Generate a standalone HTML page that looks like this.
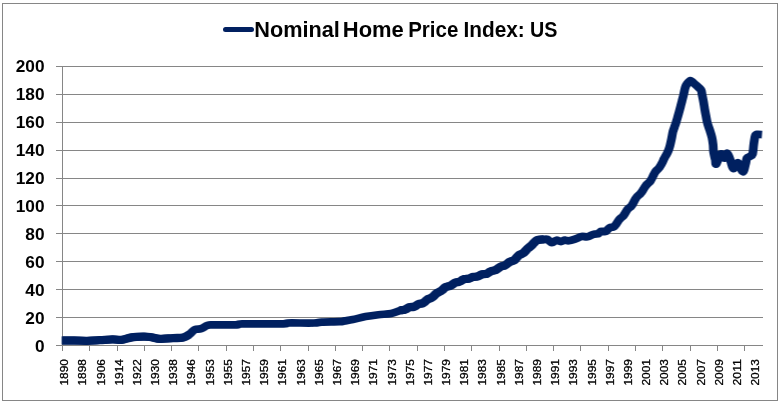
<!DOCTYPE html>
<html><head><meta charset="utf-8"><title>Nominal Home Price Index: US</title>
<style>html,body{margin:0;padding:0;background:#fff;}body{width:782px;height:404px;overflow:hidden;}svg{display:block;}text{font-family:"Liberation Sans",sans-serif;fill:#000;}</style></head><body>
<svg width="782" height="404" viewBox="0 0 782 404">
<rect x="0" y="0" width="782" height="404" fill="#fff"/>
<rect x="2.5" y="3.5" width="775" height="397" fill="none" stroke="#868686" stroke-width="1"/>
<line x1="56" y1="66.5" x2="763" y2="66.5" stroke="#868686" stroke-width="1" shape-rendering="crispEdges"/>
<line x1="56" y1="94.5" x2="763" y2="94.5" stroke="#868686" stroke-width="1" shape-rendering="crispEdges"/>
<line x1="56" y1="122.5" x2="763" y2="122.5" stroke="#868686" stroke-width="1" shape-rendering="crispEdges"/>
<line x1="56" y1="150.5" x2="763" y2="150.5" stroke="#868686" stroke-width="1" shape-rendering="crispEdges"/>
<line x1="56" y1="178.5" x2="763" y2="178.5" stroke="#868686" stroke-width="1" shape-rendering="crispEdges"/>
<line x1="56" y1="205.5" x2="763" y2="205.5" stroke="#868686" stroke-width="1" shape-rendering="crispEdges"/>
<line x1="56" y1="233.5" x2="763" y2="233.5" stroke="#868686" stroke-width="1" shape-rendering="crispEdges"/>
<line x1="56" y1="261.5" x2="763" y2="261.5" stroke="#868686" stroke-width="1" shape-rendering="crispEdges"/>
<line x1="56" y1="289.5" x2="763" y2="289.5" stroke="#868686" stroke-width="1" shape-rendering="crispEdges"/>
<line x1="56" y1="317.5" x2="763" y2="317.5" stroke="#868686" stroke-width="1" shape-rendering="crispEdges"/>
<line x1="56" y1="345.5" x2="763" y2="345.5" stroke="#868686" stroke-width="1" shape-rendering="crispEdges"/>
<line x1="62.5" y1="66" x2="62.5" y2="346" stroke="#868686" stroke-width="1" shape-rendering="crispEdges"/>
<line x1="62.5" y1="346" x2="62.5" y2="350.5" stroke="#868686" stroke-width="1" shape-rendering="crispEdges"/>
<line x1="89.5" y1="346" x2="89.5" y2="350.5" stroke="#868686" stroke-width="1" shape-rendering="crispEdges"/>
<line x1="117.5" y1="346" x2="117.5" y2="350.5" stroke="#868686" stroke-width="1" shape-rendering="crispEdges"/>
<line x1="144.5" y1="346" x2="144.5" y2="350.5" stroke="#868686" stroke-width="1" shape-rendering="crispEdges"/>
<line x1="171.5" y1="346" x2="171.5" y2="350.5" stroke="#868686" stroke-width="1" shape-rendering="crispEdges"/>
<line x1="198.5" y1="346" x2="198.5" y2="350.5" stroke="#868686" stroke-width="1" shape-rendering="crispEdges"/>
<line x1="226.5" y1="346" x2="226.5" y2="350.5" stroke="#868686" stroke-width="1" shape-rendering="crispEdges"/>
<line x1="253.5" y1="346" x2="253.5" y2="350.5" stroke="#868686" stroke-width="1" shape-rendering="crispEdges"/>
<line x1="280.5" y1="346" x2="280.5" y2="350.5" stroke="#868686" stroke-width="1" shape-rendering="crispEdges"/>
<line x1="308.5" y1="346" x2="308.5" y2="350.5" stroke="#868686" stroke-width="1" shape-rendering="crispEdges"/>
<line x1="335.5" y1="346" x2="335.5" y2="350.5" stroke="#868686" stroke-width="1" shape-rendering="crispEdges"/>
<line x1="362.5" y1="346" x2="362.5" y2="350.5" stroke="#868686" stroke-width="1" shape-rendering="crispEdges"/>
<line x1="389.5" y1="346" x2="389.5" y2="350.5" stroke="#868686" stroke-width="1" shape-rendering="crispEdges"/>
<line x1="417.5" y1="346" x2="417.5" y2="350.5" stroke="#868686" stroke-width="1" shape-rendering="crispEdges"/>
<line x1="444.5" y1="346" x2="444.5" y2="350.5" stroke="#868686" stroke-width="1" shape-rendering="crispEdges"/>
<line x1="471.5" y1="346" x2="471.5" y2="350.5" stroke="#868686" stroke-width="1" shape-rendering="crispEdges"/>
<line x1="499.5" y1="346" x2="499.5" y2="350.5" stroke="#868686" stroke-width="1" shape-rendering="crispEdges"/>
<line x1="526.5" y1="346" x2="526.5" y2="350.5" stroke="#868686" stroke-width="1" shape-rendering="crispEdges"/>
<line x1="553.5" y1="346" x2="553.5" y2="350.5" stroke="#868686" stroke-width="1" shape-rendering="crispEdges"/>
<line x1="580.5" y1="346" x2="580.5" y2="350.5" stroke="#868686" stroke-width="1" shape-rendering="crispEdges"/>
<line x1="608.5" y1="346" x2="608.5" y2="350.5" stroke="#868686" stroke-width="1" shape-rendering="crispEdges"/>
<line x1="635.5" y1="346" x2="635.5" y2="350.5" stroke="#868686" stroke-width="1" shape-rendering="crispEdges"/>
<line x1="662.5" y1="346" x2="662.5" y2="350.5" stroke="#868686" stroke-width="1" shape-rendering="crispEdges"/>
<line x1="690.5" y1="346" x2="690.5" y2="350.5" stroke="#868686" stroke-width="1" shape-rendering="crispEdges"/>
<line x1="717.5" y1="346" x2="717.5" y2="350.5" stroke="#868686" stroke-width="1" shape-rendering="crispEdges"/>
<line x1="744.5" y1="346" x2="744.5" y2="350.5" stroke="#868686" stroke-width="1" shape-rendering="crispEdges"/>
<g opacity="0.999">
<text x="15.7" y="72.0" font-size="15.6" font-weight="bold" textLength="28.8" lengthAdjust="spacingAndGlyphs">200</text>
<text x="15.7" y="100.0" font-size="15.6" font-weight="bold" textLength="28.8" lengthAdjust="spacingAndGlyphs">180</text>
<text x="15.7" y="128.0" font-size="15.6" font-weight="bold" textLength="28.8" lengthAdjust="spacingAndGlyphs">160</text>
<text x="15.7" y="156.0" font-size="15.6" font-weight="bold" textLength="28.8" lengthAdjust="spacingAndGlyphs">140</text>
<text x="15.7" y="184.0" font-size="15.6" font-weight="bold" textLength="28.8" lengthAdjust="spacingAndGlyphs">120</text>
<text x="15.7" y="212.0" font-size="15.6" font-weight="bold" textLength="28.8" lengthAdjust="spacingAndGlyphs">100</text>
<text x="25.3" y="240.0" font-size="15.6" font-weight="bold" textLength="19.2" lengthAdjust="spacingAndGlyphs">80</text>
<text x="25.3" y="267.9" font-size="15.6" font-weight="bold" textLength="19.2" lengthAdjust="spacingAndGlyphs">60</text>
<text x="25.3" y="295.9" font-size="15.6" font-weight="bold" textLength="19.2" lengthAdjust="spacingAndGlyphs">40</text>
<text x="25.3" y="323.9" font-size="15.6" font-weight="bold" textLength="19.2" lengthAdjust="spacingAndGlyphs">20</text>
<text x="34.9" y="351.9" font-size="15.6" font-weight="bold" textLength="9.6" lengthAdjust="spacingAndGlyphs">0</text>
<text transform="translate(68.20,385.5) rotate(-90)" font-size="11.5" stroke="#000" stroke-width="0.3" textLength="26.4" lengthAdjust="spacingAndGlyphs">1890</text>
<text transform="translate(86.38,385.5) rotate(-90)" font-size="11.5" stroke="#000" stroke-width="0.3" textLength="26.4" lengthAdjust="spacingAndGlyphs">1898</text>
<text transform="translate(104.57,385.5) rotate(-90)" font-size="11.5" stroke="#000" stroke-width="0.3" textLength="26.4" lengthAdjust="spacingAndGlyphs">1906</text>
<text transform="translate(122.75,385.5) rotate(-90)" font-size="11.5" stroke="#000" stroke-width="0.3" textLength="26.4" lengthAdjust="spacingAndGlyphs">1914</text>
<text transform="translate(140.94,385.5) rotate(-90)" font-size="11.5" stroke="#000" stroke-width="0.3" textLength="26.4" lengthAdjust="spacingAndGlyphs">1922</text>
<text transform="translate(159.12,385.5) rotate(-90)" font-size="11.5" stroke="#000" stroke-width="0.3" textLength="26.4" lengthAdjust="spacingAndGlyphs">1930</text>
<text transform="translate(177.31,385.5) rotate(-90)" font-size="11.5" stroke="#000" stroke-width="0.3" textLength="26.4" lengthAdjust="spacingAndGlyphs">1938</text>
<text transform="translate(195.49,385.5) rotate(-90)" font-size="11.5" stroke="#000" stroke-width="0.3" textLength="26.4" lengthAdjust="spacingAndGlyphs">1946</text>
<text transform="translate(213.68,385.5) rotate(-90)" font-size="11.5" stroke="#000" stroke-width="0.3" textLength="26.4" lengthAdjust="spacingAndGlyphs">1953</text>
<text transform="translate(231.86,385.5) rotate(-90)" font-size="11.5" stroke="#000" stroke-width="0.3" textLength="26.4" lengthAdjust="spacingAndGlyphs">1955</text>
<text transform="translate(250.05,385.5) rotate(-90)" font-size="11.5" stroke="#000" stroke-width="0.3" textLength="26.4" lengthAdjust="spacingAndGlyphs">1957</text>
<text transform="translate(268.24,385.5) rotate(-90)" font-size="11.5" stroke="#000" stroke-width="0.3" textLength="26.4" lengthAdjust="spacingAndGlyphs">1959</text>
<text transform="translate(286.42,385.5) rotate(-90)" font-size="11.5" stroke="#000" stroke-width="0.3" textLength="26.4" lengthAdjust="spacingAndGlyphs">1961</text>
<text transform="translate(304.61,385.5) rotate(-90)" font-size="11.5" stroke="#000" stroke-width="0.3" textLength="26.4" lengthAdjust="spacingAndGlyphs">1963</text>
<text transform="translate(322.79,385.5) rotate(-90)" font-size="11.5" stroke="#000" stroke-width="0.3" textLength="26.4" lengthAdjust="spacingAndGlyphs">1965</text>
<text transform="translate(340.98,385.5) rotate(-90)" font-size="11.5" stroke="#000" stroke-width="0.3" textLength="26.4" lengthAdjust="spacingAndGlyphs">1967</text>
<text transform="translate(359.16,385.5) rotate(-90)" font-size="11.5" stroke="#000" stroke-width="0.3" textLength="26.4" lengthAdjust="spacingAndGlyphs">1969</text>
<text transform="translate(377.35,385.5) rotate(-90)" font-size="11.5" stroke="#000" stroke-width="0.3" textLength="26.4" lengthAdjust="spacingAndGlyphs">1971</text>
<text transform="translate(395.53,385.5) rotate(-90)" font-size="11.5" stroke="#000" stroke-width="0.3" textLength="26.4" lengthAdjust="spacingAndGlyphs">1973</text>
<text transform="translate(413.72,385.5) rotate(-90)" font-size="11.5" stroke="#000" stroke-width="0.3" textLength="26.4" lengthAdjust="spacingAndGlyphs">1975</text>
<text transform="translate(431.90,385.5) rotate(-90)" font-size="11.5" stroke="#000" stroke-width="0.3" textLength="26.4" lengthAdjust="spacingAndGlyphs">1977</text>
<text transform="translate(450.09,385.5) rotate(-90)" font-size="11.5" stroke="#000" stroke-width="0.3" textLength="26.4" lengthAdjust="spacingAndGlyphs">1979</text>
<text transform="translate(468.27,385.5) rotate(-90)" font-size="11.5" stroke="#000" stroke-width="0.3" textLength="26.4" lengthAdjust="spacingAndGlyphs">1981</text>
<text transform="translate(486.46,385.5) rotate(-90)" font-size="11.5" stroke="#000" stroke-width="0.3" textLength="26.4" lengthAdjust="spacingAndGlyphs">1983</text>
<text transform="translate(504.64,385.5) rotate(-90)" font-size="11.5" stroke="#000" stroke-width="0.3" textLength="26.4" lengthAdjust="spacingAndGlyphs">1985</text>
<text transform="translate(522.82,385.5) rotate(-90)" font-size="11.5" stroke="#000" stroke-width="0.3" textLength="26.4" lengthAdjust="spacingAndGlyphs">1987</text>
<text transform="translate(541.01,385.5) rotate(-90)" font-size="11.5" stroke="#000" stroke-width="0.3" textLength="26.4" lengthAdjust="spacingAndGlyphs">1989</text>
<text transform="translate(559.19,385.5) rotate(-90)" font-size="11.5" stroke="#000" stroke-width="0.3" textLength="26.4" lengthAdjust="spacingAndGlyphs">1991</text>
<text transform="translate(577.38,385.5) rotate(-90)" font-size="11.5" stroke="#000" stroke-width="0.3" textLength="26.4" lengthAdjust="spacingAndGlyphs">1993</text>
<text transform="translate(595.57,385.5) rotate(-90)" font-size="11.5" stroke="#000" stroke-width="0.3" textLength="26.4" lengthAdjust="spacingAndGlyphs">1995</text>
<text transform="translate(613.75,385.5) rotate(-90)" font-size="11.5" stroke="#000" stroke-width="0.3" textLength="26.4" lengthAdjust="spacingAndGlyphs">1997</text>
<text transform="translate(631.94,385.5) rotate(-90)" font-size="11.5" stroke="#000" stroke-width="0.3" textLength="26.4" lengthAdjust="spacingAndGlyphs">1999</text>
<text transform="translate(650.12,385.5) rotate(-90)" font-size="11.5" stroke="#000" stroke-width="0.3" textLength="26.4" lengthAdjust="spacingAndGlyphs">2001</text>
<text transform="translate(668.30,385.5) rotate(-90)" font-size="11.5" stroke="#000" stroke-width="0.3" textLength="26.4" lengthAdjust="spacingAndGlyphs">2003</text>
<text transform="translate(686.49,385.5) rotate(-90)" font-size="11.5" stroke="#000" stroke-width="0.3" textLength="26.4" lengthAdjust="spacingAndGlyphs">2005</text>
<text transform="translate(704.67,385.5) rotate(-90)" font-size="11.5" stroke="#000" stroke-width="0.3" textLength="26.4" lengthAdjust="spacingAndGlyphs">2007</text>
<text transform="translate(722.86,385.5) rotate(-90)" font-size="11.5" stroke="#000" stroke-width="0.3" textLength="26.4" lengthAdjust="spacingAndGlyphs">2009</text>
<text transform="translate(741.04,385.5) rotate(-90)" font-size="11.5" stroke="#000" stroke-width="0.3" textLength="26.4" lengthAdjust="spacingAndGlyphs">2011</text>
<text transform="translate(759.23,385.5) rotate(-90)" font-size="11.5" stroke="#000" stroke-width="0.3" textLength="26.4" lengthAdjust="spacingAndGlyphs">2013</text>
<line x1="225.5" y1="29.6" x2="251.5" y2="29.6" stroke="#002060" stroke-width="5" stroke-linecap="round"/>
<text x="254.3" y="36.7" font-size="21.5" font-weight="bold" textLength="85.6" lengthAdjust="spacingAndGlyphs">Nominal</text>
<text x="342.8" y="36.7" font-size="21.5" font-weight="bold" textLength="61.0" lengthAdjust="spacingAndGlyphs">Home</text>
<text x="408.2" y="36.7" font-size="21.5" font-weight="bold" textLength="50.1" lengthAdjust="spacingAndGlyphs">Price</text>
<text x="463.5" y="36.7" font-size="21.5" font-weight="bold" textLength="61.3" lengthAdjust="spacingAndGlyphs">Index:</text>
<text x="530.1" y="36.7" font-size="21.5" font-weight="bold" textLength="27.4" lengthAdjust="spacingAndGlyphs">US</text>
</g>
<g transform="scale(1.130,1)" fill="none" stroke="#002060" stroke-linejoin="round" stroke-linecap="butt"><path d="M54.87,340.50 C56.67,340.50 61.98,340.45 65.66,340.50 C69.35,340.55 73.22,340.85 76.99,340.80 C80.77,340.75 84.56,340.43 88.32,340.20 C92.08,339.97 96.36,339.45 99.56,339.40 C102.76,339.35 104.69,340.23 107.52,339.90 C110.35,339.57 113.35,337.93 116.55,337.40 C119.75,336.87 124.03,336.77 126.73,336.70 C129.42,336.63 130.24,336.63 132.74,337.00 C135.25,337.37 138.38,338.72 141.77,338.90 C145.16,339.08 149.71,338.32 153.10,338.10 C156.49,337.88 159.68,338.25 162.12,337.60 C164.57,336.95 166.08,335.53 167.79,334.20 C169.50,332.87 170.68,330.52 172.39,329.60 C174.10,328.68 176.18,329.42 178.05,328.70 C179.93,327.98 181.76,325.93 183.63,325.30 C185.50,324.67 184.94,324.98 189.29,324.90 C193.64,324.82 205.59,324.97 209.73,324.80 C213.88,324.63 207.32,324.05 214.16,323.90 C221.00,323.75 244.13,324.05 250.80,323.90 C257.46,323.75 249.65,323.15 254.16,323.00 C258.67,322.85 272.79,323.15 277.88,323.00 C282.96,322.85 280.91,322.32 284.69,322.10 C288.47,321.88 297.14,321.90 300.53,321.70 C303.92,321.50 303.10,321.27 305.04,320.90 C306.99,320.53 309.13,320.22 312.21,319.50 C315.29,318.78 319.76,317.40 323.54,316.60 C327.32,315.80 331.09,315.22 334.87,314.70 C338.64,314.18 343.01,314.19 346.19,313.50 C349.38,312.81 352.46,311.13 353.98,310.57 C355.50,310.00 354.87,310.22 355.31,310.13 C355.75,310.03 356.19,310.06 356.64,310.01 C357.08,309.95 357.52,309.93 357.96,309.79 C358.41,309.64 358.85,309.41 359.29,309.15 C359.73,308.88 360.18,308.48 360.62,308.19 C361.06,307.89 361.50,307.59 361.95,307.40 C362.39,307.21 362.83,307.10 363.27,307.03 C363.72,306.96 364.16,307.02 364.60,307.00 C365.04,306.98 365.49,307.01 365.93,306.90 C366.37,306.80 366.81,306.63 367.26,306.38 C367.70,306.12 368.14,305.69 368.58,305.37 C369.03,305.04 369.47,304.66 369.91,304.41 C370.35,304.16 370.80,303.98 371.24,303.85 C371.68,303.73 372.12,303.74 372.57,303.66 C373.01,303.58 373.45,303.59 373.89,303.38 C374.34,303.18 374.78,302.82 375.22,302.44 C375.66,302.07 376.11,301.56 376.55,301.13 C376.99,300.70 377.43,300.21 377.88,299.84 C378.32,299.48 378.76,299.19 379.20,298.95 C379.65,298.71 380.09,298.60 380.53,298.40 C380.97,298.19 381.42,298.01 381.86,297.73 C382.30,297.44 382.74,297.09 383.19,296.67 C383.63,296.26 384.07,295.72 384.51,295.23 C384.96,294.75 385.40,294.21 385.84,293.79 C386.28,293.37 386.73,293.01 387.17,292.72 C387.61,292.42 388.05,292.25 388.50,292.02 C388.94,291.79 389.38,291.63 389.82,291.34 C390.27,291.05 390.71,290.71 391.15,290.30 C391.59,289.88 392.04,289.32 392.48,288.86 C392.92,288.39 393.36,287.85 393.81,287.50 C394.25,287.15 394.69,286.93 395.13,286.74 C395.58,286.56 396.02,286.50 396.46,286.39 C396.90,286.28 397.35,286.25 397.79,286.09 C398.23,285.93 398.67,285.73 399.12,285.44 C399.56,285.16 400.00,284.75 400.44,284.40 C400.88,284.04 401.33,283.61 401.77,283.30 C402.21,282.99 402.65,282.73 403.10,282.54 C403.54,282.36 403.98,282.30 404.42,282.20 C404.87,282.10 405.31,282.08 405.75,281.94 C406.19,281.81 406.64,281.65 407.08,281.42 C407.52,281.19 407.96,280.86 408.41,280.56 C408.85,280.26 409.29,279.87 409.73,279.61 C410.18,279.34 410.62,279.12 411.06,278.98 C411.50,278.83 411.95,278.80 412.39,278.77 C412.83,278.73 413.27,278.81 413.72,278.78 C414.16,278.76 414.60,278.75 415.04,278.62 C415.49,278.50 415.93,278.25 416.37,278.03 C416.81,277.81 417.26,277.50 417.70,277.31 C418.14,277.12 418.58,276.98 419.03,276.89 C419.47,276.80 419.91,276.80 420.35,276.76 C420.80,276.71 421.24,276.71 421.68,276.63 C422.12,276.55 422.57,276.45 423.01,276.28 C423.45,276.11 423.89,275.85 424.34,275.59 C424.78,275.34 425.22,274.98 425.66,274.75 C426.11,274.51 426.55,274.29 426.99,274.18 C427.43,274.06 427.88,274.07 428.32,274.04 C428.76,274.01 429.20,274.08 429.65,274.01 C430.09,273.94 430.53,273.83 430.97,273.63 C431.42,273.43 431.86,273.11 432.30,272.81 C432.74,272.50 433.19,272.10 433.63,271.80 C434.07,271.51 434.51,271.24 434.96,271.05 C435.40,270.86 435.84,270.77 436.28,270.66 C436.73,270.54 437.17,270.51 437.61,270.37 C438.05,270.24 438.50,270.10 438.94,269.85 C439.38,269.60 439.82,269.24 440.27,268.89 C440.71,268.53 441.15,268.07 441.59,267.71 C442.04,267.35 442.48,266.99 442.92,266.74 C443.36,266.49 443.81,266.34 444.25,266.19 C444.69,266.04 445.13,266.01 445.58,265.86 C446.02,265.72 446.46,265.58 446.90,265.33 C447.35,265.08 447.79,264.72 448.23,264.35 C448.67,263.98 449.12,263.48 449.56,263.09 C450.00,262.69 450.44,262.28 450.88,261.99 C451.33,261.70 451.77,261.51 452.21,261.33 C452.65,261.15 453.10,261.09 453.54,260.92 C453.98,260.76 454.42,260.66 454.87,260.33 C455.31,260.01 455.75,259.50 456.19,258.98 C456.64,258.46 457.08,257.77 457.52,257.20 C457.96,256.64 458.41,256.03 458.85,255.60 C459.29,255.17 459.73,254.89 460.18,254.62 C460.62,254.36 461.06,254.25 461.50,254.02 C461.95,253.80 462.39,253.59 462.83,253.26 C463.27,252.94 463.72,252.55 464.16,252.07 C464.60,251.59 465.04,250.93 465.49,250.38 C465.93,249.82 466.37,249.22 466.81,248.75 C467.26,248.28 467.70,247.94 468.14,247.55 C468.58,247.16 469.03,246.82 469.47,246.41 C469.91,245.99 470.35,245.57 470.80,245.04 C471.24,244.52 471.68,243.80 472.12,243.25 C472.57,242.70 473.01,242.22 473.45,241.76 C473.89,241.31 474.29,240.86 474.78,240.55 C475.27,240.24 475.24,240.11 476.37,239.90 C477.51,239.69 480.28,239.40 481.59,239.30 C482.91,239.20 483.11,238.75 484.25,239.30 C485.38,239.85 487.06,242.45 488.41,242.60 C489.75,242.75 490.99,240.37 492.30,240.20 C493.61,240.03 495.07,241.62 496.28,241.60 C497.49,241.58 498.36,240.23 499.56,240.10 C500.75,239.97 501.81,241.00 503.45,240.80 C505.09,240.60 507.51,239.62 509.38,238.90 C511.25,238.18 512.94,236.85 514.69,236.50 C516.45,236.15 518.17,237.17 519.91,236.80 C521.65,236.43 523.60,234.80 525.13,234.30 C526.67,233.80 528.44,233.90 529.12,233.80 C529.79,233.70 528.97,233.94 529.20,233.73 C529.44,233.51 530.09,232.93 530.53,232.52 C530.97,232.12 531.42,231.52 531.86,231.32 C532.30,231.12 532.74,231.26 533.19,231.31 C533.63,231.36 534.07,231.58 534.51,231.64 C534.96,231.70 535.40,231.89 535.84,231.67 C536.28,231.45 536.73,230.82 537.17,230.33 C537.61,229.85 538.05,229.19 538.50,228.74 C538.94,228.30 539.38,227.90 539.82,227.64 C540.27,227.39 540.71,227.32 541.15,227.22 C541.59,227.11 542.04,227.18 542.48,227.02 C542.92,226.86 543.36,226.70 543.81,226.26 C544.25,225.82 544.69,225.07 545.13,224.39 C545.58,223.70 546.02,222.89 546.46,222.14 C546.90,221.39 547.35,220.51 547.79,219.88 C548.23,219.25 548.67,218.82 549.12,218.36 C549.56,217.90 550.00,217.58 550.44,217.13 C550.88,216.68 551.33,216.27 551.77,215.66 C552.21,215.04 552.65,214.24 553.10,213.45 C553.54,212.66 553.98,211.70 554.42,210.94 C554.87,210.18 555.31,209.45 555.75,208.89 C556.19,208.32 556.64,207.97 557.08,207.57 C557.52,207.16 557.96,207.01 558.41,206.48 C558.85,205.95 559.29,205.21 559.73,204.39 C560.18,203.57 560.62,202.49 561.06,201.57 C561.50,200.65 561.95,199.66 562.39,198.86 C562.83,198.06 563.27,197.34 563.72,196.76 C564.16,196.18 564.60,195.83 565.04,195.40 C565.49,194.96 565.93,194.65 566.37,194.15 C566.81,193.66 567.26,193.12 567.70,192.44 C568.14,191.75 568.58,190.87 569.03,190.06 C569.47,189.25 569.91,188.35 570.35,187.58 C570.80,186.80 571.24,186.04 571.68,185.43 C572.12,184.82 572.57,184.39 573.01,183.91 C573.45,183.43 573.89,183.05 574.34,182.54 C574.78,182.04 575.22,181.58 575.66,180.87 C576.11,180.15 576.55,179.21 576.99,178.25 C577.43,177.30 577.88,176.12 578.32,175.15 C578.76,174.17 579.20,173.16 579.65,172.38 C580.09,171.61 580.53,171.06 580.97,170.51 C581.42,169.96 581.86,169.61 582.30,169.10 C582.74,168.58 583.19,168.11 583.63,167.44 C584.07,166.76 584.51,165.92 584.96,165.05 C585.40,164.17 585.84,163.22 586.28,162.19 C586.73,161.15 587.17,159.88 587.61,158.87 C588.05,157.85 588.50,156.98 588.94,156.09 C589.38,155.21 589.82,154.53 590.27,153.57 C590.71,152.60 591.15,151.63 591.59,150.31 C592.04,148.99 592.48,147.51 592.92,145.63 C593.36,143.75 593.81,141.41 594.25,139.05 C594.69,136.68 595.13,133.44 595.58,131.44 C596.02,129.44 596.46,128.52 596.90,127.05 C597.35,125.59 597.79,124.24 598.23,122.66 C598.67,121.09 599.12,119.31 599.56,117.61 C600.00,115.90 600.44,114.24 600.88,112.44 C601.33,110.64 601.77,108.71 602.21,106.81 C602.65,104.90 603.08,103.04 603.54,101.02 C604.00,99.00 604.47,96.99 604.96,94.70 C605.44,92.41 605.91,89.15 606.46,87.30 C607.01,85.45 607.61,84.60 608.23,83.60 C608.85,82.60 609.63,81.75 610.18,81.30 C610.72,80.85 610.52,80.23 611.50,80.90 C612.49,81.57 614.63,83.82 616.11,85.30 C617.58,86.78 619.48,88.23 620.35,89.80 C621.22,91.37 620.94,92.65 621.33,94.70 C621.71,96.75 622.26,99.62 622.65,102.10 C623.05,104.58 623.36,107.28 623.72,109.60 C624.07,111.92 624.38,113.70 624.78,116.00 C625.18,118.30 625.56,121.08 626.11,123.40 C626.65,125.72 627.40,127.58 628.05,129.90 C628.70,132.22 629.50,134.83 630.00,137.30 C630.50,139.77 630.81,142.23 631.06,144.70 C631.31,147.17 631.18,149.62 631.50,152.10 C631.83,154.58 632.61,157.62 633.01,159.60 C633.41,161.58 633.08,164.95 633.89,164.00 C634.71,163.05 636.65,154.88 637.88,153.90 C639.10,152.92 640.27,158.20 641.24,158.10 C642.21,158.00 642.83,152.82 643.72,153.30 C644.60,153.78 645.68,158.45 646.55,161.00 C647.42,163.55 647.83,168.30 648.94,168.60 C650.04,168.90 651.78,162.27 653.19,162.80 C654.59,163.33 656.24,171.60 657.35,171.80 C658.45,172.00 659.20,166.30 659.82,164.00 C660.44,161.70 660.40,159.28 661.06,158.00 C661.73,156.72 662.98,156.97 663.81,156.30 C664.63,155.63 665.47,156.05 666.02,154.00 C666.56,151.95 666.70,147.00 667.08,144.00 C667.46,141.00 667.79,137.62 668.32,136.00 C668.85,134.38 669.26,134.53 670.27,134.30 C671.27,134.07 673.66,134.55 674.34,134.60" stroke-width="7.7"/><path d="M54.87,340.50 C56.67,340.50 61.98,340.45 65.66,340.50 C69.35,340.55 73.22,340.85 76.99,340.80 C80.77,340.75 84.56,340.43 88.32,340.20 C92.08,339.97 96.36,339.45 99.56,339.40 C102.76,339.35 104.69,340.23 107.52,339.90 C110.35,339.57 113.35,337.93 116.55,337.40 C119.75,336.87 124.03,336.77 126.73,336.70 C129.42,336.63 130.24,336.63 132.74,337.00 C135.25,337.37 138.38,338.72 141.77,338.90 C145.16,339.08 149.71,338.32 153.10,338.10 C156.49,337.88 159.68,338.25 162.12,337.60 C164.57,336.95 166.84,334.77 167.79,334.20" stroke-width="8.3"/><path d="M353.98,310.57 C354.20,310.49 354.87,310.22 355.31,310.13 C355.75,310.03 356.19,310.06 356.64,310.01 C357.08,309.95 357.52,309.93 357.96,309.79 C358.41,309.64 358.85,309.41 359.29,309.15 C359.73,308.88 360.18,308.48 360.62,308.19 C361.06,307.89 361.50,307.59 361.95,307.40 C362.39,307.21 362.83,307.10 363.27,307.03 C363.72,306.96 364.16,307.02 364.60,307.00 C365.04,306.98 365.49,307.01 365.93,306.90 C366.37,306.80 366.81,306.63 367.26,306.38 C367.70,306.12 368.14,305.69 368.58,305.37 C369.03,305.04 369.47,304.66 369.91,304.41 C370.35,304.16 370.80,303.98 371.24,303.85 C371.68,303.73 372.12,303.74 372.57,303.66 C373.01,303.58 373.45,303.59 373.89,303.38 C374.34,303.18 374.78,302.82 375.22,302.44 C375.66,302.07 376.11,301.56 376.55,301.13 C376.99,300.70 377.43,300.21 377.88,299.84 C378.32,299.48 378.76,299.19 379.20,298.95 C379.65,298.71 380.09,298.60 380.53,298.40 C380.97,298.19 381.42,298.01 381.86,297.73 C382.30,297.44 382.74,297.09 383.19,296.67 C383.63,296.26 384.07,295.72 384.51,295.23 C384.96,294.75 385.40,294.21 385.84,293.79 C386.28,293.37 386.73,293.01 387.17,292.72 C387.61,292.42 388.05,292.25 388.50,292.02 C388.94,291.79 389.38,291.63 389.82,291.34 C390.27,291.05 390.71,290.71 391.15,290.30 C391.59,289.88 392.04,289.32 392.48,288.86 C392.92,288.39 393.36,287.85 393.81,287.50 C394.25,287.15 394.69,286.93 395.13,286.74 C395.58,286.56 396.02,286.50 396.46,286.39 C396.90,286.28 397.35,286.25 397.79,286.09 C398.23,285.93 398.67,285.73 399.12,285.44 C399.56,285.16 400.00,284.75 400.44,284.40 C400.88,284.04 401.33,283.61 401.77,283.30 C402.21,282.99 402.65,282.73 403.10,282.54 C403.54,282.36 403.98,282.30 404.42,282.20 C404.87,282.10 405.31,282.08 405.75,281.94 C406.19,281.81 406.64,281.65 407.08,281.42 C407.52,281.19 407.96,280.86 408.41,280.56 C408.85,280.26 409.29,279.87 409.73,279.61 C410.18,279.34 410.62,279.12 411.06,278.98 C411.50,278.83 411.95,278.80 412.39,278.77 C412.83,278.73 413.27,278.81 413.72,278.78 C414.16,278.76 414.60,278.75 415.04,278.62 C415.49,278.50 415.93,278.25 416.37,278.03 C416.81,277.81 417.26,277.50 417.70,277.31 C418.14,277.12 418.58,276.98 419.03,276.89 C419.47,276.80 419.91,276.80 420.35,276.76 C420.80,276.71 421.24,276.71 421.68,276.63 C422.12,276.55 422.57,276.45 423.01,276.28 C423.45,276.11 423.89,275.85 424.34,275.59 C424.78,275.34 425.22,274.98 425.66,274.75 C426.11,274.51 426.55,274.29 426.99,274.18 C427.43,274.06 427.88,274.07 428.32,274.04 C428.76,274.01 429.20,274.08 429.65,274.01 C430.09,273.94 430.53,273.83 430.97,273.63 C431.42,273.43 431.86,273.11 432.30,272.81 C432.74,272.50 433.19,272.10 433.63,271.80 C434.07,271.51 434.51,271.24 434.96,271.05 C435.40,270.86 435.84,270.77 436.28,270.66 C436.73,270.54 437.17,270.51 437.61,270.37 C438.05,270.24 438.50,270.10 438.94,269.85 C439.38,269.60 439.82,269.24 440.27,268.89 C440.71,268.53 441.15,268.07 441.59,267.71 C442.04,267.35 442.48,266.99 442.92,266.74 C443.36,266.49 443.81,266.34 444.25,266.19 C444.69,266.04 445.13,266.01 445.58,265.86 C446.02,265.72 446.46,265.58 446.90,265.33 C447.35,265.08 447.79,264.72 448.23,264.35 C448.67,263.98 449.12,263.48 449.56,263.09 C450.00,262.69 450.44,262.28 450.88,261.99 C451.33,261.70 451.77,261.51 452.21,261.33 C452.65,261.15 453.10,261.09 453.54,260.92 C453.98,260.76 454.42,260.66 454.87,260.33 C455.31,260.01 455.75,259.50 456.19,258.98 C456.64,258.46 457.08,257.77 457.52,257.20 C457.96,256.64 458.41,256.03 458.85,255.60 C459.29,255.17 459.73,254.89 460.18,254.62 C460.62,254.36 461.06,254.25 461.50,254.02 C461.95,253.80 462.39,253.59 462.83,253.26 C463.27,252.94 463.72,252.55 464.16,252.07 C464.60,251.59 465.04,250.93 465.49,250.38 C465.93,249.82 466.37,249.22 466.81,248.75 C467.26,248.28 467.70,247.94 468.14,247.55 C468.58,247.16 469.03,246.82 469.47,246.41 C469.91,245.99 470.35,245.57 470.80,245.04 C471.24,244.52 471.68,243.80 472.12,243.25 C472.57,242.70 473.01,242.22 473.45,241.76 C473.89,241.31 474.29,240.86 474.78,240.55 C475.27,240.24 475.24,240.11 476.37,239.90 C477.51,239.69 480.72,239.40 481.59,239.30" stroke-width="8.3"/></g>
</svg></body></html>
